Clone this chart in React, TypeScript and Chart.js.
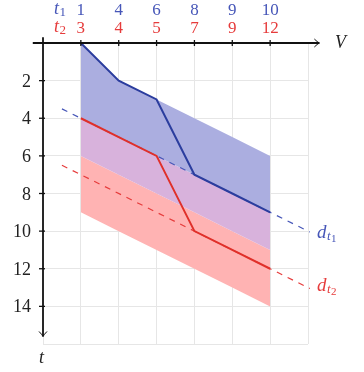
import React, { useEffect, useRef } from "react";
import { Chart, registerables } from "chart.js";

Chart.register(...registerables);

// ---- data ----
const positions = [1, 2, 3, 4, 5, 6];
const t1Labels = ["1", "4", "6", "8", "9", "10"];
const t2Labels = ["3", "4", "5", "7", "9", "12"];
const blueLine = [0, 2, 3, 7, 8, 9];
const redLine = [4, 5, 6, 10, 11, 12];
const blueBandTop = [0, 2, 3, 4, 5, 6];
const redBandTop = [4, 5, 6, 7, 8, 9];
const blueBandBottom = [6, 7, 8, 9, 10, 11];
const redBandBottom = [9, 10, 11, 12, 13, 14];
const dashX = [0.5, 7.05];
const dt1Y = [3.5, 10.05];
const dt2Y = [6.5, 13.05];
const yTickValues = [2, 4, 6, 8, 10, 12, 14];

const BLUE = "#2b3d9e";
const BLUE_TXT = "#4656b8";
const RED = "#e0302a";
const RED_TXT = "#e63b3b";
const FILL_BLUE = "#abaee0";
const FILL_PURPLE = "#d8b2dc";
const FILL_PINK = "#ffb3b3";
const SERIF = '"Liberation Serif", "DejaVu Serif", serif';

const pts = (ys: number[]) => positions.map((x, i) => ({ x, y: ys[i] }));
const pts2 = (xs: number[], ys: number[]) => xs.map((x, i) => ({ x, y: ys[i] }));

function drawSub(
  ctx: CanvasRenderingContext2D,
  x: number,
  y: number,
  base: string,
  baseSize: number,
  sub: string,
  subSize: number,
  subsub: string | null,
  subsubSize: number,
  color: string
) {
  ctx.fillStyle = color;
  ctx.textAlign = "left";
  ctx.textBaseline = "alphabetic";
  ctx.font = `italic ${baseSize}px ${SERIF}`;
  ctx.fillText(base, x, y);
  let cx = x + ctx.measureText(base).width + 0.5;
  ctx.font = `${subsub ? "italic " : ""}${subSize}px ${SERIF}`;
  ctx.fillText(sub, cx, y + 2);
  cx += ctx.measureText(sub).width + 0.5;
  if (subsub) {
    ctx.font = `${subsubSize}px ${SERIF}`;
    ctx.fillText(subsub, cx, y + 4);
  }
}

const axesPlugin = {
  id: "customAxes",
  afterDraw(chart: any) {
    const ctx: CanvasRenderingContext2D = chart.ctx;
    const xs = chart.scales.x;
    const ys = chart.scales.y;
    const x0 = xs.getPixelForValue(0);
    const y0 = ys.getPixelForValue(0);
    ctx.save();
    ctx.strokeStyle = "#111";
    ctx.lineWidth = 1.8;
    // x axis
    const xEnd = xs.getPixelForValue(7.3);
    ctx.beginPath();
    ctx.moveTo(xs.getPixelForValue(-0.27), y0);
    ctx.lineTo(xEnd, y0);
    ctx.stroke();
    ctx.lineWidth = 1;
    ctx.beginPath();
    ctx.moveTo(xEnd - 5, y0 - 4);
    ctx.quadraticCurveTo(xEnd - 2, y0 - 1, xEnd, y0);
    ctx.quadraticCurveTo(xEnd - 2, y0 + 1, xEnd - 5, y0 + 4);
    ctx.stroke();
    // y axis
    ctx.lineWidth = 1.8;
    const yEnd = ys.getPixelForValue(15.6);
    ctx.beginPath();
    ctx.moveTo(x0, ys.getPixelForValue(-0.3));
    ctx.lineTo(x0, yEnd);
    ctx.stroke();
    ctx.lineWidth = 1;
    ctx.beginPath();
    ctx.moveTo(x0 - 4, yEnd - 5);
    ctx.quadraticCurveTo(x0 - 1, yEnd - 2, x0, yEnd);
    ctx.quadraticCurveTo(x0 + 1, yEnd - 2, x0 + 4, yEnd - 5);
    ctx.stroke();
    // ticks
    ctx.lineWidth = 1.3;
    positions.forEach((v) => {
      const px = xs.getPixelForValue(v);
      ctx.beginPath();
      ctx.moveTo(px, y0 - 3);
      ctx.lineTo(px, y0 + 3);
      ctx.stroke();
    });
    yTickValues.forEach((v) => {
      const py = ys.getPixelForValue(v);
      ctx.beginPath();
      ctx.moveTo(x0 - 4, py);
      ctx.lineTo(x0 + 2, py);
      ctx.stroke();
    });
    // tick labels
    ctx.textBaseline = "alphabetic";
    ctx.textAlign = "center";
    ctx.font = `17px ${SERIF}`;
    positions.forEach((v, i) => {
      const px = xs.getPixelForValue(v);
      ctx.fillStyle = BLUE_TXT;
      ctx.fillText(t1Labels[i], px, 15);
      ctx.fillStyle = RED_TXT;
      ctx.fillText(t2Labels[i], px, 33);
    });
    drawSub(ctx, 54, 14, "t", 18, "1", 13, null, 0, BLUE_TXT);
    drawSub(ctx, 54, 32, "t", 18, "2", 13, null, 0, RED_TXT);
    ctx.textAlign = "right";
    ctx.textBaseline = "alphabetic";
    ctx.fillStyle = "#222";
    ctx.font = `18px ${SERIF}`;
    yTickValues.forEach((v) => {
      ctx.fillText(String(v), 31, ys.getPixelForValue(v) + 6);
    });
    // axis labels
    ctx.textAlign = "left";
    ctx.font = `italic 18px ${SERIF}`;
    ctx.fillStyle = "#222";
    ctx.fillText("V", 335, y0 + 5);
    ctx.fillText("t", x0 - 4, 363);
    // dashed line labels
    drawSub(ctx, 317, ys.getPixelForValue(10.35), "d", 19, "t", 13, "1", 11, BLUE_TXT);
    drawSub(ctx, 317, ys.getPixelForValue(13.2), "d", 19, "t", 13, "2", 11, RED_TXT);
    ctx.restore();
  },
};

export default function App() {
  const ref = useRef<HTMLCanvasElement | null>(null);
  useEffect(() => {
    if (!ref.current) return;
    const fillDs = (ys: number[], target: number | false, color: string) => ({
      data: pts(ys),
      borderWidth: 0,
      pointRadius: 0,
      backgroundColor: color,
      borderColor: "rgba(0,0,0,0)",
      fill: target === false ? false : { target },
      order: 10,
    });
    const chart = new Chart(ref.current, {
      type: "line",
      data: {
        datasets: [
          fillDs(blueBandTop, 1, FILL_BLUE),
          fillDs(redBandTop, 2, FILL_PURPLE),
          fillDs(blueBandBottom, 3, FILL_PINK),
          fillDs(redBandBottom, false, "rgba(0,0,0,0)"),
          {
            data: pts2(dashX, dt1Y),
            borderColor: BLUE_TXT,
            borderWidth: 1.2,
            borderDash: [6, 6],
            pointRadius: 0,
            fill: false,
            order: 5,
            clip: false,
          },
          {
            data: pts2(dashX, dt2Y),
            borderColor: RED_TXT,
            borderWidth: 1.2,
            borderDash: [6, 6],
            pointRadius: 0,
            fill: false,
            order: 5,
            clip: false,
          },
          {
            data: pts(blueLine),
            borderColor: BLUE,
            borderWidth: 2,
            pointRadius: 0,
            fill: false,
            order: 1,
          },
          {
            data: pts(redLine),
            borderColor: RED,
            borderWidth: 2,
            pointRadius: 0,
            fill: false,
            order: 1,
          },
        ] as any,
      },
      options: {
        animation: false,
        responsive: false,
        maintainAspectRatio: false,
        events: [],
        layout: { padding: { left: 43, top: 43, right: 56, bottom: 28 } },
        plugins: {
          legend: { display: false },
          tooltip: { enabled: false },
          title: { display: false },
        },
        scales: {
          x: {
            type: "linear",
            min: 0,
            max: 7,
            ticks: { display: false, stepSize: 1 },
            grid: { color: "#e6e6e6", lineWidth: 1, drawTicks: false },
            border: { display: false },
          },
          y: {
            type: "linear",
            reverse: true,
            min: 0,
            max: 16,
            ticks: { display: false, stepSize: 2 },
            grid: { color: "#e6e6e6", lineWidth: 1, drawTicks: false },
            border: { display: false },
          },
        },
      },
      plugins: [axesPlugin],
    });
    return () => chart.destroy();
  }, []);
  return (
    <div style={{ position: "fixed", left: 0, top: 0, width: 364, height: 372, background: "#fff" }}>
      <canvas ref={ref} width={364} height={372} style={{ width: 364, height: 372 }} />
    </div>
  );
}
